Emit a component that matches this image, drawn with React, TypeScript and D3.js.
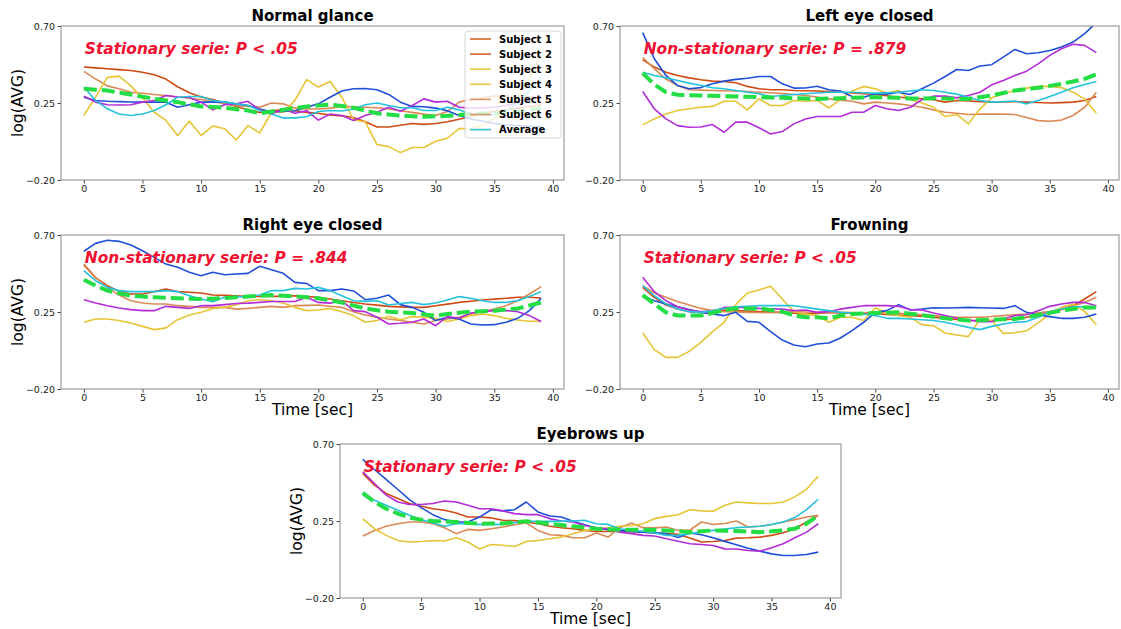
import React, { useRef, useEffect } from "react";
import * as d3 from "d3";

// time axis (seconds) and tick labels
const seconds = d3.range(0, 40);
const xTicks = [0, 5, 10, 15, 20, 25, 30, 35, 40];
const yTicks = [-0.2, 0.25, 0.7];

const panelTitles = ["Normal glance", "Left eye closed", "Right eye closed", "Frowning", "Eyebrows up"];
const panelNotes = [
  "Stationary serie: P < .05",
  "Non-stationary serie: P = .879",
  "Non-stationary serie: P = .844",
  "Stationary serie: P < .05",
  "Stationary serie: P < .05",
];

const legendLabels = ["Subject 1", "Subject 2", "Subject 3", "Subject 4", "Subject 5", "Subject 6", "Average"];

// Normal glance
const glanceOrange = [0.46,0.455,0.45,0.445,0.44,0.43,0.415,0.39,0.345,0.31,0.285,0.27,0.25,0.23,0.21,0.195,0.205,0.21,0.205,0.195,0.19,0.18,0.175,0.165,0.14,0.11,0.11,0.12,0.13,0.125,0.13,0.14,0.155,0.17,0.19,0.2,0.21,0.22,0.23,0.24];
const glanceTan = [0.435,0.39,0.35,0.333,0.313,0.307,0.3,0.294,0.285,0.278,0.27,0.26,0.245,0.235,0.23,0.225,0.25,0.245,0.22,0.215,0.215,0.22,0.23,0.228,0.225,0.222,0.215,0.205,0.195,0.185,0.177,0.2,0.255,0.27,0.28,0.29,0.29,0.288,0.285,0.28];
const glanceYellow = [0.177,0.284,0.4,0.407,0.35,0.28,0.196,0.148,0.06,0.144,0.06,0.116,0.1,0.034,0.118,0.075,0.196,0.196,0.265,0.387,0.343,0.376,0.284,0.151,0.14,0.007,-0.005,-0.04,-0.01,-0.01,0.026,0.044,0.1,0.1,0.12,0.16,0.2,0.28,0.4,0.53];
const glanceBlue = [0.284,0.265,0.26,0.258,0.256,0.255,0.255,0.255,0.225,0.24,0.255,0.255,0.255,0.245,0.235,0.215,0.198,0.2,0.205,0.225,0.245,0.284,0.32,0.333,0.335,0.327,0.3,0.255,0.23,0.228,0.22,0.205,0.177,0.157,0.145,0.13,0.122,0.118,0.115,0.112];
const glancePurple = [0.29,0.255,0.24,0.238,0.24,0.255,0.265,0.294,0.285,0.282,0.255,0.21,0.24,0.245,0.26,0.21,0.186,0.215,0.19,0.205,0.15,0.186,0.177,0.148,0.177,0.196,0.225,0.202,0.235,0.274,0.255,0.26,0.225,0.22,0.22,0.225,0.235,0.25,0.27,0.29];
const glanceCyan = [0.343,0.265,0.216,0.186,0.177,0.186,0.206,0.24,0.284,0.288,0.288,0.265,0.255,0.245,0.235,0.206,0.186,0.163,0.163,0.17,0.2,0.206,0.203,0.215,0.24,0.25,0.235,0.222,0.222,0.206,0.206,0.225,0.21,0.186,0.18,0.18,0.2,0.25,0.32,0.4];
const glanceTrend = [0.333,0.328,0.323,0.31,0.3,0.287,0.274,0.265,0.255,0.242,0.23,0.226,0.222,0.214,0.206,0.19,0.2,0.21,0.22,0.23,0.235,0.24,0.232,0.222,0.206,0.19,0.183,0.177,0.173,0.17,0.172,0.175,0.18,0.186,0.188,0.19,0.195,0.2,0.21,0.22];

// Left eye closed
const leftOrange = [0.503,0.46,0.43,0.411,0.397,0.386,0.378,0.376,0.368,0.347,0.333,0.327,0.327,0.323,0.322,0.32,0.317,0.313,0.308,0.304,0.3,0.292,0.284,0.28,0.275,0.269,0.255,0.265,0.262,0.258,0.255,0.256,0.258,0.255,0.253,0.25,0.252,0.255,0.265,0.288];
const leftTan = [0.515,0.45,0.39,0.352,0.327,0.325,0.323,0.322,0.32,0.317,0.313,0.31,0.305,0.3,0.294,0.285,0.274,0.267,0.26,0.245,0.255,0.25,0.245,0.235,0.225,0.21,0.196,0.19,0.183,0.185,0.186,0.185,0.183,0.165,0.147,0.143,0.15,0.177,0.225,0.313];
const leftYellow = [0.122,0.157,0.186,0.206,0.216,0.225,0.23,0.26,0.26,0.21,0.274,0.235,0.235,0.265,0.26,0.265,0.222,0.27,0.32,0.347,0.333,0.308,0.323,0.27,0.25,0.225,0.171,0.183,0.128,0.216,0.28,0.304,0.323,0.337,0.347,0.347,0.34,0.313,0.274,0.19];
const leftBlue = [0.661,0.509,0.411,0.352,0.333,0.34,0.362,0.378,0.388,0.395,0.405,0.405,0.362,0.337,0.338,0.348,0.327,0.32,0.288,0.284,0.304,0.302,0.313,0.3,0.333,0.366,0.405,0.446,0.44,0.466,0.474,0.518,0.563,0.538,0.544,0.557,0.577,0.606,0.655,0.72];
const leftPurple = [0.317,0.216,0.157,0.118,0.108,0.11,0.124,0.079,0.138,0.138,0.105,0.069,0.083,0.128,0.157,0.171,0.171,0.171,0.196,0.196,0.235,0.216,0.206,0.225,0.269,0.29,0.29,0.28,0.294,0.313,0.356,0.382,0.411,0.436,0.479,0.528,0.567,0.593,0.587,0.544];
const leftCyan = [0.43,0.411,0.398,0.382,0.366,0.352,0.339,0.333,0.323,0.313,0.304,0.288,0.294,0.3,0.304,0.308,0.313,0.313,0.313,0.31,0.308,0.31,0.313,0.32,0.327,0.323,0.313,0.302,0.284,0.265,0.255,0.258,0.262,0.245,0.265,0.288,0.313,0.339,0.358,0.376];
const leftTrend = [0.425,0.358,0.313,0.298,0.296,0.294,0.292,0.29,0.288,0.286,0.284,0.282,0.28,0.278,0.276,0.274,0.276,0.278,0.28,0.282,0.284,0.282,0.28,0.276,0.276,0.278,0.276,0.274,0.274,0.284,0.294,0.308,0.323,0.331,0.339,0.35,0.362,0.376,0.391,0.417];

// Right eye closed
const rightOrange = [0.525,0.45,0.404,0.371,0.355,0.355,0.369,0.384,0.369,0.365,0.361,0.349,0.347,0.344,0.341,0.341,0.341,0.343,0.345,0.34,0.336,0.326,0.316,0.306,0.297,0.29,0.283,0.28,0.277,0.277,0.287,0.296,0.306,0.313,0.32,0.325,0.33,0.336,0.336,0.332];
const rightTan = [0.53,0.453,0.394,0.349,0.316,0.303,0.297,0.297,0.287,0.283,0.277,0.277,0.277,0.267,0.271,0.277,0.283,0.277,0.287,0.289,0.291,0.284,0.277,0.252,0.232,0.219,0.209,0.2,0.19,0.18,0.2,0.21,0.219,0.238,0.252,0.267,0.287,0.316,0.355,0.398];
const rightYellow = [0.19,0.209,0.209,0.2,0.186,0.166,0.147,0.157,0.205,0.232,0.248,0.271,0.277,0.293,0.316,0.322,0.316,0.303,0.277,0.258,0.262,0.271,0.252,0.229,0.19,0.2,0.225,0.205,0.223,0.219,0.213,0.194,0.209,0.229,0.238,0.229,0.213,0.203,0.196,0.195];
const rightBlue = [0.605,0.651,0.669,0.663,0.642,0.608,0.569,0.53,0.511,0.482,0.462,0.482,0.468,0.472,0.476,0.517,0.497,0.476,0.423,0.417,0.375,0.375,0.384,0.373,0.322,0.33,0.349,0.293,0.277,0.248,0.2,0.219,0.209,0.18,0.174,0.176,0.19,0.213,0.258,0.33];
const rightPurple = [0.322,0.303,0.287,0.273,0.264,0.258,0.258,0.283,0.277,0.271,0.287,0.287,0.293,0.3,0.302,0.306,0.311,0.311,0.311,0.336,0.306,0.302,0.316,0.258,0.252,0.219,0.18,0.184,0.19,0.209,0.17,0.223,0.213,0.244,0.252,0.258,0.258,0.252,0.229,0.194];
const rightCyan = [0.492,0.433,0.394,0.375,0.369,0.369,0.369,0.375,0.369,0.345,0.326,0.31,0.336,0.338,0.341,0.349,0.375,0.375,0.388,0.384,0.394,0.375,0.345,0.316,0.312,0.316,0.291,0.3,0.306,0.293,0.303,0.32,0.34,0.33,0.316,0.306,0.306,0.316,0.34,0.369];
const rightTrend = [0.439,0.404,0.375,0.359,0.345,0.34,0.336,0.333,0.33,0.328,0.326,0.328,0.331,0.336,0.34,0.345,0.349,0.345,0.341,0.336,0.33,0.318,0.306,0.287,0.271,0.26,0.252,0.248,0.244,0.236,0.229,0.238,0.245,0.252,0.255,0.258,0.264,0.271,0.288,0.306];

// Frowning
const frownOrange = [0.394,0.336,0.291,0.267,0.252,0.248,0.258,0.262,0.258,0.255,0.252,0.25,0.248,0.243,0.238,0.242,0.248,0.245,0.244,0.241,0.238,0.235,0.232,0.229,0.226,0.22,0.213,0.207,0.2,0.2,0.2,0.205,0.209,0.219,0.229,0.247,0.264,0.287,0.326,0.369];
const frownTan = [0.404,0.361,0.336,0.312,0.291,0.271,0.258,0.252,0.25,0.248,0.247,0.246,0.248,0.252,0.25,0.248,0.248,0.248,0.247,0.246,0.246,0.246,0.242,0.238,0.234,0.229,0.224,0.219,0.219,0.219,0.224,0.229,0.234,0.238,0.245,0.252,0.27,0.287,0.306,0.336];
const frownYellow = [0.127,0.03,-0.015,-0.015,0.02,0.073,0.135,0.19,0.293,0.361,0.379,0.4,0.326,0.252,0.238,0.229,0.19,0.219,0.219,0.2,0.273,0.244,0.229,0.219,0.176,0.17,0.127,0.116,0.106,0.209,0.2,0.125,0.129,0.14,0.186,0.238,0.277,0.297,0.252,0.176];
const frownBlue = [0.341,0.316,0.297,0.281,0.264,0.248,0.238,0.229,0.248,0.195,0.19,0.135,0.086,0.057,0.047,0.063,0.069,0.098,0.141,0.19,0.248,0.258,0.293,0.262,0.267,0.275,0.273,0.275,0.277,0.275,0.273,0.271,0.287,0.248,0.232,0.223,0.213,0.213,0.219,0.238];
const frownPurple = [0.453,0.369,0.316,0.281,0.262,0.252,0.252,0.277,0.277,0.277,0.271,0.269,0.267,0.258,0.262,0.248,0.252,0.267,0.277,0.287,0.287,0.287,0.283,0.264,0.262,0.244,0.229,0.213,0.203,0.194,0.194,0.209,0.229,0.234,0.258,0.283,0.297,0.306,0.306,0.287];
const frownCyan = [0.404,0.345,0.297,0.267,0.252,0.248,0.258,0.27,0.281,0.284,0.287,0.287,0.287,0.287,0.277,0.267,0.258,0.248,0.244,0.238,0.229,0.213,0.213,0.209,0.205,0.2,0.19,0.176,0.16,0.147,0.166,0.18,0.19,0.194,0.219,0.252,0.267,0.281,0.281,0.277];
const frownTrend = [0.349,0.297,0.248,0.229,0.229,0.229,0.244,0.262,0.271,0.271,0.271,0.262,0.252,0.229,0.219,0.219,0.213,0.229,0.238,0.241,0.244,0.246,0.248,0.24,0.232,0.222,0.213,0.206,0.2,0.202,0.205,0.207,0.209,0.22,0.232,0.245,0.258,0.268,0.277,0.277];

// Eyebrows up
const browsOrange = [0.528,0.46,0.411,0.381,0.352,0.336,0.322,0.313,0.297,0.273,0.273,0.268,0.254,0.252,0.244,0.234,0.219,0.211,0.205,0.195,0.189,0.189,0.189,0.187,0.185,0.18,0.176,0.172,0.15,0.127,0.13,0.136,0.15,0.152,0.156,0.166,0.181,0.205,0.244,0.283];
const browsTan = [0.162,0.195,0.219,0.234,0.244,0.244,0.234,0.211,0.176,0.201,0.195,0.205,0.215,0.228,0.238,0.195,0.17,0.166,0.152,0.152,0.18,0.156,0.211,0.238,0.211,0.21,0.215,0.195,0.196,0.244,0.23,0.235,0.25,0.215,0.219,0.23,0.244,0.258,0.273,0.283];
const browsYellow = [0.262,0.205,0.166,0.136,0.127,0.13,0.136,0.133,0.152,0.127,0.087,0.113,0.108,0.101,0.13,0.136,0.146,0.156,0.176,0.195,0.199,0.211,0.219,0.224,0.234,0.264,0.277,0.287,0.316,0.309,0.307,0.342,0.361,0.356,0.352,0.352,0.361,0.391,0.436,0.512];
const browsBlue = [0.61,0.551,0.493,0.434,0.375,0.328,0.287,0.258,0.244,0.244,0.273,0.316,0.309,0.316,0.361,0.303,0.279,0.273,0.248,0.228,0.209,0.199,0.195,0.189,0.185,0.181,0.176,0.154,0.18,0.17,0.152,0.131,0.111,0.091,0.074,0.058,0.048,0.048,0.054,0.068];
const browsPurple = [0.538,0.469,0.401,0.361,0.346,0.346,0.352,0.367,0.361,0.342,0.322,0.322,0.309,0.293,0.287,0.287,0.264,0.25,0.244,0.224,0.211,0.205,0.185,0.176,0.166,0.162,0.146,0.132,0.117,0.113,0.107,0.087,0.086,0.078,0.074,0.093,0.117,0.152,0.185,0.234];
const browsCyan = [0.401,0.371,0.342,0.313,0.283,0.258,0.238,0.219,0.234,0.234,0.23,0.23,0.23,0.24,0.248,0.248,0.248,0.249,0.25,0.254,0.234,0.23,0.205,0.195,0.19,0.18,0.166,0.166,0.176,0.186,0.195,0.203,0.211,0.215,0.219,0.23,0.244,0.27,0.316,0.377];
const browsTrend = [0.414,0.361,0.322,0.293,0.27,0.258,0.25,0.247,0.244,0.239,0.234,0.235,0.236,0.242,0.248,0.241,0.234,0.226,0.219,0.212,0.205,0.202,0.199,0.199,0.199,0.197,0.195,0.19,0.185,0.19,0.195,0.193,0.191,0.188,0.185,0.19,0.195,0.205,0.234,0.283];

const panelSeries = [
  [glanceOrange, glanceTan, glanceYellow, glanceBlue, glancePurple, glanceCyan],
  [leftOrange, leftTan, leftYellow, leftBlue, leftPurple, leftCyan],
  [rightOrange, rightTan, rightYellow, rightBlue, rightPurple, rightCyan],
  [frownOrange, frownTan, frownYellow, frownBlue, frownPurple, frownCyan],
  [browsOrange, browsTan, browsYellow, browsBlue, browsPurple, browsCyan],
];
const panelTrends = [glanceTrend, leftTrend, rightTrend, frownTrend, browsTrend];

const lineColors = ["#cf4b13", "#d98a55", "#e6c434", "#1f4fd8", "#b32cd8", "#25c2dc"];
const trendColor = "#22dd44";
const legendColors = ["#d9602a", "#d9602a", "#e8c83e", "#e8c83e", "#d99464", "#d99464", "#2ec3d8"];

// plot boxes in pixels
const layout = [
  { left: 61, right: 564, top: 26, bottom: 180, yLabel: true, xLabel: false },
  { left: 620, right: 1119, top: 26, bottom: 180, yLabel: false, xLabel: false },
  { left: 61, right: 564, top: 235, bottom: 389, yLabel: true, xLabel: true },
  { left: 620, right: 1119, top: 235, bottom: 389, yLabel: false, xLabel: true },
  { left: 340, right: 841, top: 444, bottom: 598, yLabel: true, xLabel: true },
];

const font = "DejaVu Sans, sans-serif";
const fmtY = (d: number) => (d < 0 ? "\u2212" + Math.abs(d).toFixed(2) : d.toFixed(2));

const App = () => {
  const svgRef = useRef<SVGSVGElement>(null);

  useEffect(() => {
    const svg = d3.select(svgRef.current);
    svg.selectAll("*").remove();

    layout.forEach((p, i) => {
      const x = d3.scaleLinear().domain([-1.95, 40.95]).range([p.left, p.right]);
      const y = d3.scaleLinear().domain([-0.2, 0.7]).range([p.bottom, p.top]);
      const g = svg.append("g");

      g.append("clipPath")
        .attr("id", "clip" + i)
        .append("rect")
        .attr("x", p.left)
        .attr("y", p.top)
        .attr("width", p.right - p.left)
        .attr("height", p.bottom - p.top);

      const line = d3
        .line<number>()
        .x((d, j) => x(seconds[j]))
        .y((d) => y(d));

      const plot = g.append("g").attr("clip-path", `url(#clip${i})`);
      panelSeries[i].forEach((s, k) => {
        plot
          .append("path")
          .attr("d", line(s))
          .attr("fill", "none")
          .attr("stroke", lineColors[k])
          .attr("stroke-width", 1.6)
          .attr("stroke-linejoin", "round");
      });
      plot
        .append("path")
        .attr("d", line(panelTrends[i]))
        .attr("fill", "none")
        .attr("stroke", trendColor)
        .attr("stroke-width", 4)
        .attr("stroke-dasharray", "13,5");

      // axes
      const xAxis = d3.axisBottom(x).tickValues(xTicks).tickSize(3.5).tickPadding(2).tickFormat(d3.format("d"));
      const gx = g.append("g").attr("transform", `translate(0,${p.bottom})`).call(xAxis);
      const yAxis = d3.axisLeft(y).tickValues(yTicks).tickSize(3.5).tickPadding(2.5).tickFormat(fmtY);
      const gy = g.append("g").attr("transform", `translate(${p.left},0)`).call(yAxis);
      [gx, gy].forEach((ax) => {
        ax.select(".domain").remove();
        ax.selectAll("line").attr("stroke", "#444");
        ax.selectAll("text").attr("font-family", font).attr("font-size", 9.5).attr("fill", "#222");
      });

      g.append("rect")
        .attr("x", p.left)
        .attr("y", p.top)
        .attr("width", p.right - p.left)
        .attr("height", p.bottom - p.top)
        .attr("fill", "none")
        .attr("stroke", "#888")
        .attr("stroke-width", 1);

      g.append("text")
        .attr("x", (p.left + p.right) / 2)
        .attr("y", p.top - 5)
        .attr("text-anchor", "middle")
        .attr("font-family", font)
        .attr("font-weight", "bold")
        .attr("font-size", 15)
        .text(panelTitles[i]);

      g.append("text")
        .attr("x", x(0) + 1)
        .attr("y", p.top + 28)
        .attr("font-family", font)
        .attr("font-weight", "bold")
        .attr("font-style", "italic")
        .attr("font-size", 15.4)
        .attr("fill", "#f01030")
        .text(panelNotes[i]);

      if (p.yLabel) {
        g.append("text")
          .attr("transform", `translate(${p.left - 38},${(p.top + p.bottom) / 2}) rotate(-90)`)
          .attr("text-anchor", "middle")
          .attr("font-family", font)
          .attr("font-size", 15.5)
          .text("log(AVG)");
      }
      if (p.xLabel) {
        g.append("text")
          .attr("x", (p.left + p.right) / 2)
          .attr("y", p.bottom + 26)
          .attr("text-anchor", "middle")
          .attr("font-family", font)
          .attr("font-size", 15.5)
          .text("Time [sec]");
      }

      // legend only on the first panel
      if (i === 0) {
        const lg = g.append("g").attr("transform", "translate(465,31)");
        lg.append("rect")
          .attr("width", 96)
          .attr("height", 107)
          .attr("rx", 3)
          .attr("fill", "white")
          .attr("fill-opacity", 0.8)
          .attr("stroke", "#ccc")
          .attr("stroke-width", 0.8);
        legendLabels.forEach((lab, k) => {
          const ly = 8 + k * 15.1;
          lg.append("line")
            .attr("x1", 5)
            .attr("x2", 26)
            .attr("y1", ly)
            .attr("y2", ly)
            .attr("stroke", legendColors[k])
            .attr("stroke-width", 1.6);
          lg.append("text")
            .attr("x", 34)
            .attr("y", ly + 3.6)
            .attr("font-family", font)
            .attr("font-weight", "bold")
            .attr("font-size", 10)
            .text(lab);
        });
      }
    });
  }, []);

  return (
    <svg
      ref={svgRef}
      width={1121}
      height={629}
      style={{ position: "absolute", left: 0, top: 0, background: "white" }}
    />
  );
};

export default App;
